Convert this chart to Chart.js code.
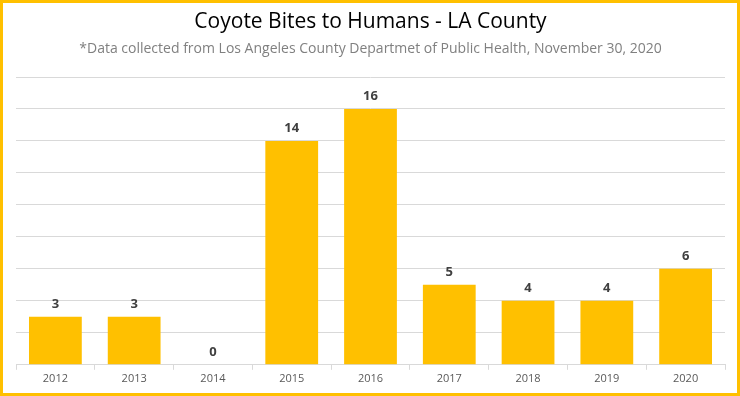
<!DOCTYPE html>
<html>
<head>
<meta charset="utf-8">
<script src="https://cdn.jsdelivr.net/npm/chart.js@4"></script>
<style>
  html, body { margin: 0; padding: 0; background: #fff; }
  #wrap { width: 740px; height: 396px; box-sizing: border-box; border: 3px solid #FFC000; }
  #chart { display: block; }
</style>
</head>
<body>
<div id="wrap"><canvas id="chart" width="734" height="390"></canvas></div>
<script>
const years = ['2012', '2013', '2014', '2015', '2016', '2017', '2018', '2019', '2020'];
const bites = [3, 3, 0, 14, 16, 5, 4, 4, 6];

// rótulos de valor acima das barras
const valueLabels = {
    id: 'valueLabels',
    afterDatasetsDraw(chart) {
        const ctx = chart.ctx;
        const meta = chart.getDatasetMeta(0);
        ctx.save();
        ctx.font = 'bold 13px "Open Sans", sans-serif';
        ctx.fillStyle = '#404040';
        ctx.textAlign = 'center';
        ctx.textBaseline = 'bottom';
        meta.data.forEach((bar, i) => {
            ctx.fillText(String(bites[i]), bar.x, bar.y - 6);
        });
        ctx.restore();
    }
};

new Chart(document.getElementById('chart'), {
    type: 'bar',
    data: {
        labels: years,
        datasets: [{
            data: bites,
            backgroundColor: '#FFC000',
            barPercentage: 0.67,
            categoryPercentage: 1
        }]
    },
    options: {
        responsive: false,
        animation: false,
        layout: { padding: { left: 13, right: 12, bottom: 6 } },
        plugins: {
            legend: { display: false },
            tooltip: { enabled: false },
            title: {
                display: true,
                text: 'Coyote Bites to Humans - LA County',
                color: '#000',
                font: { family: '"Open Sans", sans-serif', size: 21, weight: 'normal' },
                padding: { top: 6, bottom: 6 }
            },
            subtitle: {
                display: true,
                text: '*Data collected from Los Angeles County Departmet of Public Health, November 30, 2020',
                color: '#808080',
                font: { family: '"Open Sans", sans-serif', size: 14 },
                padding: { bottom: 20 }
            }
        },
        scales: {
            x: {
                grid: { drawOnChartArea: false, color: '#d9d9d9', tickLength: 5 },
                border: { color: '#d9d9d9' },
                ticks: { color: '#595959', font: { family: '"Open Sans", sans-serif', size: 11 }, padding: 2 }
            },
            y: {
                min: 0,
                max: 18,
                ticks: { display: false, stepSize: 2 },
                grid: { color: '#d9d9d9', drawTicks: false },
                border: { display: false }
            }
        }
    },
    plugins: [valueLabels]
});
</script>
</body>
</html>
